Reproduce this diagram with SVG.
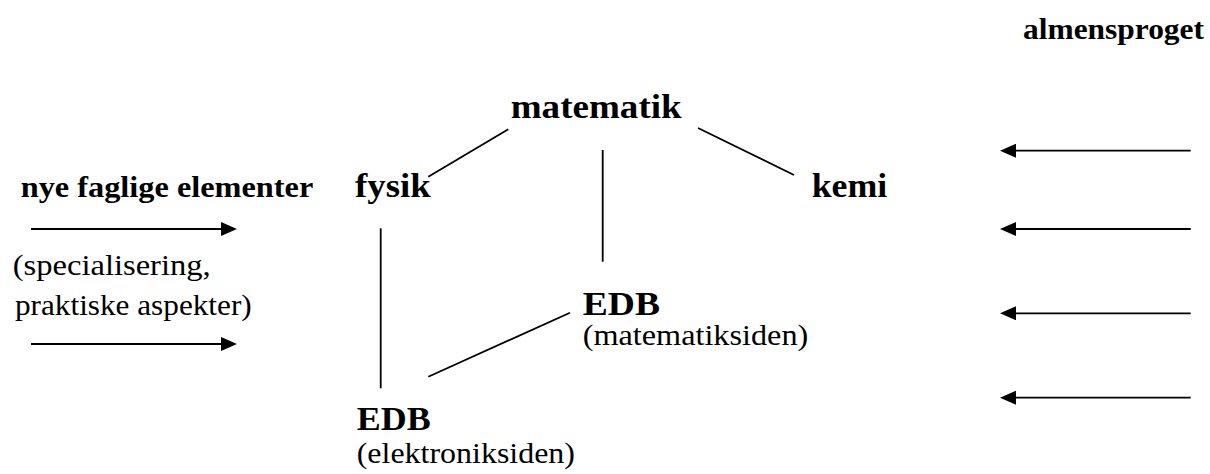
<svg xmlns="http://www.w3.org/2000/svg" width="1210" height="474" viewBox="0 0 1210 474">
<style>
.b{font-weight:bold}
.big{font-size:33px}
.sm{font-size:29px}
.ln{stroke:#000;stroke-width:1.8;fill:none}
</style>
<defs>
<marker id="ah" markerUnits="userSpaceOnUse" markerWidth="16" markerHeight="14" refX="8" refY="7" orient="auto">
<path d="M0,0 L16,7 L0,14 z" fill="#000"/>
</marker>
</defs>
<rect width="1210" height="474" fill="#fff"/>
<g id="connectors">
<line class="ln" x1="508.3" y1="129.3" x2="428.3" y2="176.7"/>
<line class="ln" x1="698" y1="128" x2="794" y2="175"/>
<line class="ln" x1="602.7" y1="150" x2="602.7" y2="261.7"/>
<line class="ln" x1="380.7" y1="228.3" x2="380.7" y2="388.3"/>
<line class="ln" x1="428.3" y1="376.7" x2="570" y2="312.7"/>
<line class="ln" x1="31" y1="229" x2="229" y2="229" marker-end="url(#ah)"/>
<line class="ln" x1="31" y1="344" x2="229" y2="344" marker-end="url(#ah)"/>
<line class="ln" x1="1190.7" y1="150.7" x2="1008" y2="150.7" marker-end="url(#ah)"/>
<line class="ln" x1="1190.7" y1="229" x2="1008" y2="229" marker-end="url(#ah)"/>
<line class="ln" x1="1190.7" y1="313.3" x2="1008" y2="313.3" marker-end="url(#ah)"/>
<line class="ln" x1="1190.7" y1="397.7" x2="1008" y2="397.7" marker-end="url(#ah)"/>
</g>
<g font-family="Liberation Serif, Times New Roman, serif" fill="#000">
<g id="almensproget"><text class="b sm" x="1023" y="39" textLength="181" lengthAdjust="spacingAndGlyphs">almensproget</text></g>
<g id="matematik"><text class="b big" x="510.7" y="118" textLength="171" lengthAdjust="spacingAndGlyphs">matematik</text></g>
<g id="fysik"><text class="b big" x="355" y="196.5" textLength="75.7" lengthAdjust="spacingAndGlyphs">fysik</text></g>
<g id="kemi"><text class="b big" x="811.7" y="196.5" textLength="75.6" lengthAdjust="spacingAndGlyphs">kemi</text></g>
<g id="nye"><text class="b sm" x="20.7" y="196.7" textLength="292.6" lengthAdjust="spacingAndGlyphs">nye faglige elementer</text>
<text class="sm" x="12.7" y="275" textLength="198" lengthAdjust="spacingAndGlyphs">(specialisering,</text>
<text class="sm" x="15" y="315" textLength="236.7" lengthAdjust="spacingAndGlyphs">praktiske aspekter)</text></g>
<g id="edb-mat"><text class="b big" x="582.7" y="315" textLength="77.3" lengthAdjust="spacingAndGlyphs">EDB</text>
<text class="sm" x="582.7" y="345" textLength="225.6" lengthAdjust="spacingAndGlyphs">(matematiksiden)</text></g>
<g id="edb-el"><text class="b big" x="356.7" y="429.5" textLength="74" lengthAdjust="spacingAndGlyphs">EDB</text>
<text class="sm" x="356.7" y="463" textLength="218.3" lengthAdjust="spacingAndGlyphs">(elektroniksiden)</text></g>
</g>
</svg>
